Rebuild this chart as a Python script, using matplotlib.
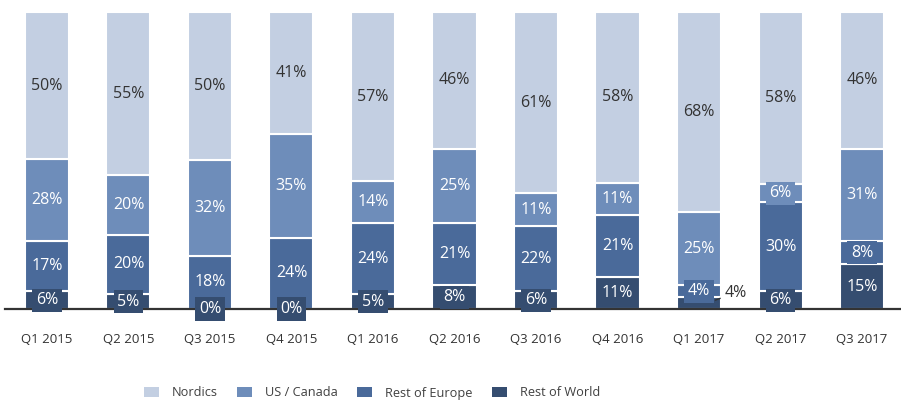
import matplotlib
matplotlib.use('Agg')
import matplotlib.pyplot as plt
import numpy as np

plt.rcParams['font.family'] = ['Open Sans', 'DejaVu Sans']

quarters = ['Q1 2015', 'Q2 2015', 'Q3 2015', 'Q4 2015', 'Q1 2016', 'Q2 2016',
            'Q3 2016', 'Q4 2016', 'Q1 2017', 'Q2 2017', 'Q3 2017']
rest_of_world = [6, 5, 0, 0, 5, 8, 6, 11, 4, 6, 15]
rest_of_europe = [17, 20, 18, 24, 24, 21, 22, 21, 4, 30, 8]
us_canada = [28, 20, 32, 35, 14, 25, 11, 11, 25, 6, 31]
nordics = [50, 55, 50, 41, 57, 46, 61, 58, 68, 58, 46]

series = [('Rest of World', rest_of_world, '#354d70', 'white'),
          ('Rest of Europe', rest_of_europe, '#4a6a9a', 'white'),
          ('US / Canada', us_canada, '#6e8dba', 'white'),
          ('Nordics', nordics, '#c3cfe2', '#333333')]

# label drawn outside the bar with a leader line: (quarter index, series index)
outside = {(8, 0)}

fig = plt.figure(figsize=(9.01, 4.01), dpi=100)
ax = fig.add_axes([5 / 901, 92 / 401, 895 / 901, 297 / 401])

x = np.arange(len(quarters))
totals = np.sum([s[1] for s in series], axis=0)
bottom = np.zeros(len(quarters))
handles = {}
for si, (name, vals, color, tcolor) in enumerate(series):
    h = np.array(vals) / totals * 100
    bars = ax.bar(x, h, 0.54, bottom=bottom, color=color, edgecolor='white',
                  linewidth=1.5, label=name, zorder=2)
    handles[name] = bars
    for i in range(len(x)):
        yc = bottom[i] + h[i] / 2
        if (i, si) in outside:
            ax.annotate(f'{vals[i]}%', xy=(x[i] + 0.2, yc + 1), xytext=(x[i] + 0.31, yc + 3.5),
                        ha='left', va='center', fontsize=11.5, color='#333333',
                        arrowprops=dict(arrowstyle='-', color='#333333', lw=1,
                                        shrinkA=1, shrinkB=0), zorder=4)
        else:
            ax.text(x[i], yc, f'{vals[i]}%', ha='center', va='center', fontsize=11.5,
                    color=tcolor, zorder=4,
                    bbox=dict(boxstyle='square,pad=0.22', fc=color, ec='none'))
    bottom += h

ax.set_xlim(-0.515, 10.466)
ax.set_ylim(0, 100)
ax.set_xticks(x)
ax.set_xticklabels(quarters, fontsize=9.5, color='#333333')
ax.tick_params(axis='x', length=0, pad=17)
ax.set_yticks([])
for sp in ['top', 'right', 'left']:
    ax.spines[sp].set_visible(False)
ax.spines['bottom'].set_color('#333333')
ax.spines['bottom'].set_linewidth(1.6)
ax.spines['bottom'].set_zorder(3)

order = ['Nordics', 'US / Canada', 'Rest of Europe', 'Rest of World']
leg = fig.legend([handles[n] for n in order], order, loc='center',
                 bbox_to_anchor=(372 / 901, 1 - 393 / 401), ncol=4, frameon=False,
                 fontsize=9.2, handlelength=1.2, handleheight=0.9, handletextpad=1.0,
                 columnspacing=1.5)
for t in leg.get_texts():
    t.set_color('#404040')
for p in leg.get_patches():
    p.set_edgecolor('none')

fig.savefig('out.png', dpi=100)
